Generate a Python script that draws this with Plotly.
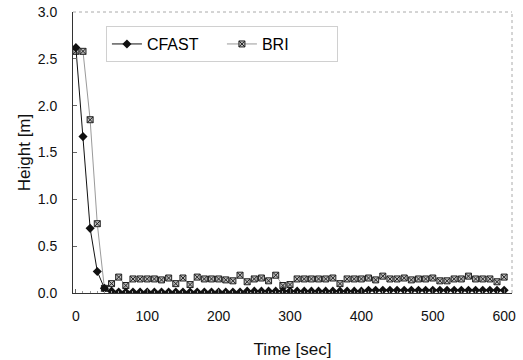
import plotly.graph_objects as go

time = list(range(0, 610, 10))
cfast = [2.62, 1.67, 0.69, 0.23, 0.05, 0.02] + [0.01] * 18 + [0.02] * 17 + [0.03] * 20
bri = [2.58, 2.58, 1.85, 0.74, 0.05, 0.10, 0.17, 0.08, 0.15, 0.15,
       0.15, 0.15, 0.14, 0.16, 0.10, 0.16, 0.09, 0.17, 0.15, 0.15,
       0.15, 0.14, 0.13, 0.19, 0.12, 0.15, 0.16, 0.13, 0.19, 0.08,
       0.09, 0.15, 0.15, 0.15, 0.15, 0.15, 0.16, 0.10, 0.15, 0.15,
       0.15, 0.16, 0.14, 0.18, 0.15, 0.15, 0.16, 0.14, 0.15, 0.15,
       0.16, 0.13, 0.13, 0.15, 0.15, 0.18, 0.15, 0.15, 0.15, 0.12, 0.17]

fig = go.Figure()
fig.add_trace(go.Scatter(x=time, y=bri, name="BRI", mode="lines+markers",
                         line=dict(color="#9a9a9a", width=1),
                         marker=dict(symbol="square-x", size=6, color="#bdbdbd",
                                     line=dict(color="#222", width=1))))
fig.add_trace(go.Scatter(x=time, y=cfast, name="CFAST", mode="lines+markers",
                         line=dict(color="#111", width=1),
                         marker=dict(symbol="diamond", size=7, color="#111")))

font = "Liberation Sans, Arial, sans-serif"
fig.update_layout(
    width=523, height=360,
    margin=dict(l=73, r=11, t=12, b=67),
    plot_bgcolor="white", paper_bgcolor="white",
    font=dict(family=font, size=14, color="#111"),
    showlegend=True,
    legend=dict(orientation="h", x=0.075, y=0.95, xanchor="left", yanchor="top",
                traceorder="reversed", bordercolor="#d0d0d0", borderwidth=1,
                font=dict(size=16, color="#000"), itemwidth=30, entrywidth=70,
                bgcolor="white"),
    xaxis=dict(range=[-4, 611], tickvals=[0, 100, 200, 300, 400, 500, 600],
               title=dict(text="Time [sec]", standoff=20), showgrid=False, zeroline=False,
               automargin=False,
               showline=True, linecolor="#333", linewidth=1, ticklabelstandoff=10,
               ticks="inside", ticklen=4, tickcolor="#666",
               minor=dict(dtick=10, ticks="inside", ticklen=2, tickcolor="#999")),
    yaxis=dict(range=[0, 3.0], dtick=0.5, tickformat=".1f",
               title=dict(text="Height [m]", standoff=2), showgrid=False, zeroline=False,
               automargin=False,
               showline=True, linecolor="#333", linewidth=1, ticklabelstandoff=12,
               ticks="inside", ticklen=4, tickcolor="#666"),
    shapes=[
        dict(type="line", xref="paper", yref="paper", x0=0, x1=1, y0=1, y1=1,
             line=dict(color="#aaaaaa", width=1, dash="dot")),
        dict(type="line", xref="paper", yref="paper", x0=1, x1=1, y0=0, y1=1,
             line=dict(color="#aaaaaa", width=1, dash="dot")),
    ],
)
fig.write_html("out.html")
